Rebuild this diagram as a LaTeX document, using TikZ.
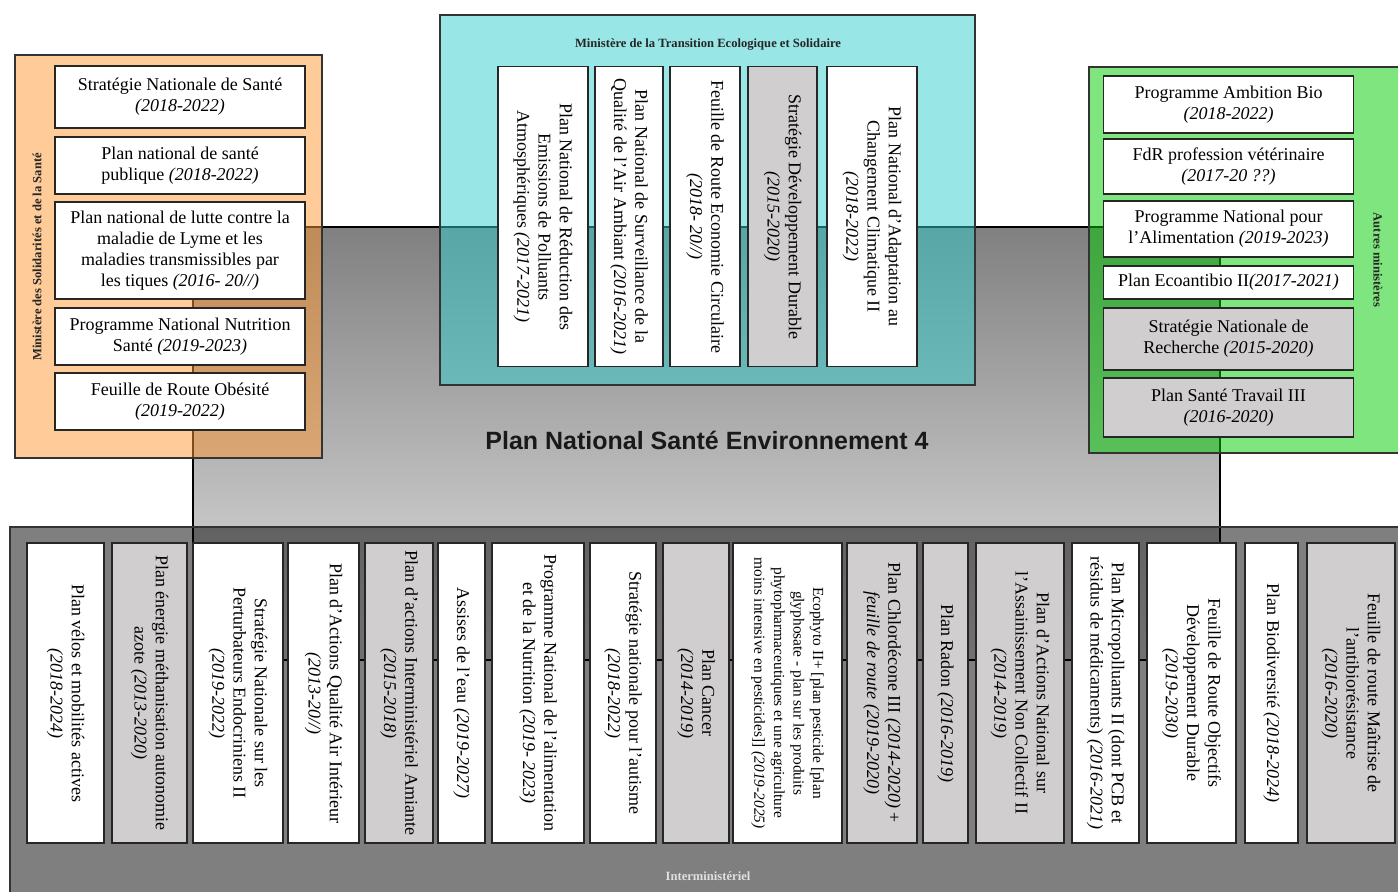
\documentclass[tikz,border=0pt]{standalone}
\usepackage{fontspec}
\setmainfont{Liberation Serif}
\newfontfamily\titlefont{Liberation Sans}

\definecolor{santeOrange}{RGB}{255,153,51}
\definecolor{ecoCyan}{RGB}{51,205,205}
\definecolor{autresGreen}{RGB}{0,205,0}
\definecolor{planGray}{RGB}{208,206,206}
\definecolor{pnseTop}{RGB}{128,128,128}
\definecolor{pnseBottom}{RGB}{228,228,228}

\newcommand{\plandates}[1]{\textit{(#1)}}

\tikzset{
  ministry/.style={draw=black!80, line width=0.6pt, fill opacity=0.5},
  ministrytag/.style={font=\fontsize{6.3}{7}\selectfont\bfseries, text=black!85, inner sep=0pt},
  plan/.style={draw=black!85, line width=0.8pt, fill=white, align=center, inner sep=0pt, font=\fontsize{9}{10.6}\selectfont},
  oldplan/.style={plan, fill=planGray},
  hplan/.style={minimum width=125pt, minimum height=#1},
  vplan/.style={rotate=-90, minimum width=150pt, minimum height=#1},
}

\begin{document}
\begin{tikzpicture}[x=0.5pt,y=-0.5pt]
        \useasboundingbox (0,0) rectangle (1398,891);
        \clip (0,0) rectangle (1398,891);

        % PNSE 4 in the middle
        \shade[top color=pnseTop, bottom color=pnseBottom] (193,227) rectangle (1220,660);
        \draw[line width=1.3pt] (193,227) rectangle (1220,660);

        % ministries (see-through)
        \filldraw[ministry, fill=black] (10,527) rectangle (1410,900);
        \filldraw[ministry, fill=santeOrange] (15,55) rectangle (322,458);
        \filldraw[ministry, fill=ecoCyan] (440,15) rectangle (975,385);
        \filldraw[ministry, fill=autresGreen] (1089,67) rectangle (1410,453);

        \node[font=\titlefont\bfseries\fontsize{12.5}{14}\selectfont, text=black!90] (pnse) at (707,440) {Plan National Santé Environnement 4};

        %% labels
        \node[ministrytag, rotate=90] (sante) at (37,257) {Ministère des Solidarités et de la Santé};
        \node[ministrytag] (ecologie) at (708,45) {Ministère de la Transition Ecologique et Solidaire};
        \node[ministrytag, rotate=-90] (autres) at (1378,260) {Autres ministères};
        \node[ministrytag, text=white!88!black] (inter) at (708,876) {Interministériel};

        % solidarites et sante
        \node[plan, hplan=31pt] (sns) at (180,97) {Stratégie Nationale de Santé\\\plandates{2018-2022}};
        \node[plan, hplan=28.5pt] (pnsp) at (180,165.5) {Plan national de santé\\publique \plandates{2018-2022}};
        \node[plan, hplan=48.5pt] (lyme) at (180,250.5) {Plan national de lutte contre la\\maladie de Lyme et les\\maladies transmissibles par\\les tiques \plandates{2016- 20//}};
        \node[plan, hplan=28.5pt] (pnns) at (180,336.5) {Programme National Nutrition\\Santé \plandates{2019-2023}};
        \node[plan, hplan=28.5pt] (obesite) at (180,401.5) {Feuille de Route Obésité\\\plandates{2019-2022}};

        % transition ecologique
        \node[plan, vplan=45pt] (pnrep) at (543,216.5) {Plan National de Réduction des\\Emissions de Polluants\\Atmosphériques \plandates{2017-2021}};
        \node[plan, vplan=34pt] (pnsqa) at (629,216.5) {Plan National de Surveillance de la\\Qualité de l'Air Ambiant \plandates{2016-2021}};
        \node[plan, vplan=35pt] (frec) at (705,216.5) {Feuille de Route Economie Circulaire\\\plandates{2018- 20//}};
        \node[oldplan, vplan=34.5pt] (sdd) at (782.5,216.5) {Stratégie Développement Durable\\\plandates{2015-2020}};
        \node[plan, vplan=45pt] (pnacc) at (872,216.5) {Plan National d'Adaptation au\\Changement Climatique II\\\plandates{2018-2022}};

        % autres ministeres
        \node[plan, hplan=28.5pt] (ambio) at (1228.5,104.5) {Programme Ambition Bio\\\plandates{2018-2022}};
        \node[plan, hplan=27.5pt] (fdrvet) at (1228.5,166.5) {FdR profession vétérinaire\\\plandates{2017-20 ??}};
        \node[plan, hplan=28pt] (pna) at (1228.5,229) {Programme National pour\\l'Alimentation \plandates{2019-2023}};
        \node[plan, hplan=16.5pt] (ecoantibio) at (1228.5,282.5) {Plan Ecoantibio II\plandates{2017-2021}};
        \node[oldplan, hplan=31pt] (snr) at (1228.5,339) {Stratégie Nationale de\\Recherche \plandates{2015-2020}};
        \node[oldplan, hplan=29.5pt] (pst) at (1228.5,407.5) {Plan Santé Travail III\\\plandates{2016-2020}};

        % interministeriel
        \node[plan, vplan=38.5pt] (velo) at (65.5,693) {Plan vélos et mobilités actives\\\plandates{2018-2024}};
        \node[oldplan, vplan=37.5pt] (methan) at (149.5,693) {Plan énergie méthanisation autonomie\\azote \plandates{2013-2020}};
        \node[plan, vplan=45pt] (snpe) at (238,693) {Stratégie Nationale sur les\\Perturbateurs Endocriniens II\\\plandates{2019-2022}};
        \node[plan, vplan=35.5pt] (paqai) at (323.5,693) {Plan d'Actions Qualité Air Intérieur\\\plandates{2013-20//}};
        \node[oldplan, vplan=34pt] (amiante) at (399,693) {Plan d'actions Interministériel Amiante\\\plandates{2015-2018}};
        \node[plan, vplan=23.5pt] (eau) at (461.5,693) {Assises de l'eau \plandates{2019-2027}};
        \node[plan, vplan=46pt] (pnan) at (538,693) {Programme National de l'alimentation\\et de la Nutrition \plandates{2019- 2023}};
        \node[plan, vplan=33pt] (autisme) at (623,693) {Stratégie nationale pour l'autisme\\\plandates{2018-2022}};
        \node[oldplan, vplan=33pt] (cancer) at (696,693) {Plan Cancer\\\plandates{2014-2019}};
        \node[plan, vplan=54.5pt, font=\fontsize{7.7}{9.8}\selectfont] (ecophyto) at (787.5,693) {Ecophyto II+ [plan pesticide [plan\\glyphosate - plan sur les produits\\phytopharmaceutiques et une agriculture\\moins intensive en pesticides]] \plandates{2019-2025}};
        \node[oldplan, vplan=35pt] (chlord) at (882,693) {Plan Chlordécone III \plandates{2014-2020} +\\\textit{feuille de route (2019-2020)}};
        \node[oldplan, vplan=22.5pt] (radon) at (945.5,693) {Plan Radon \plandates{2016-2019}};
        \node[oldplan, vplan=44pt] (anc) at (1020,693) {Plan d'Actions National sur\\l'Assainissement Non Collectif II\\\plandates{2014-2019}};
        \node[plan, vplan=33.5pt] (micropol) at (1105.5,693) {Plan Micropolluants II (dont PCB et\\résidus de médicaments) \plandates{2016-2021}};
        \node[plan, vplan=44.5pt] (odd) at (1191.5,693) {Feuille de Route Objectifs\\Développement Durable\\\plandates{2019-2030}};
        \node[plan, vplan=26.5pt] (biodiv) at (1271.5,693) {Plan Biodiversité \plandates{2018-2024}};
        \node[oldplan, vplan=44pt] (antibio) at (1351,693) {Feuille de route Maîtrise de\\l'antibiorésistance\\\plandates{2016-2020}};

\end{tikzpicture}
\end{document}
